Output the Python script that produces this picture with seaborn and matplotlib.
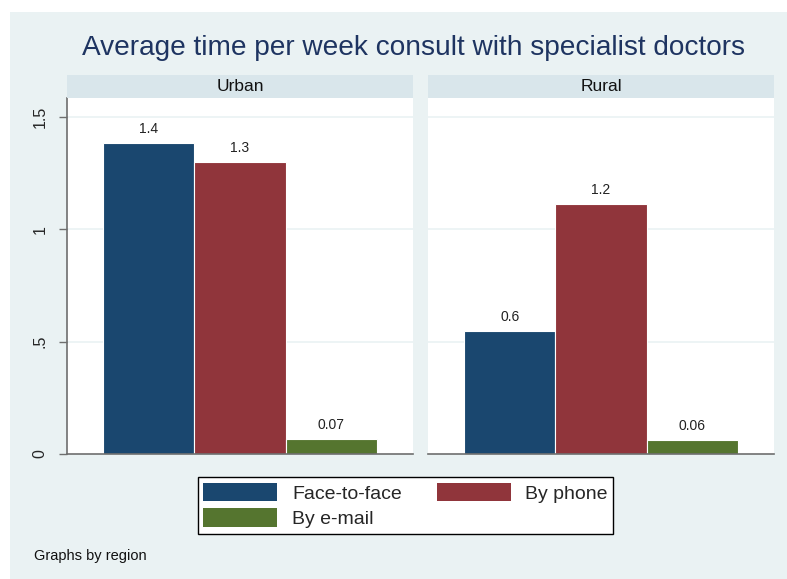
import matplotlib
matplotlib.use("Agg")
import matplotlib.pyplot as plt
from matplotlib.patches import Rectangle, Patch
import seaborn as sns
import pandas as pd

regions = ["Urban", "Rural"]
modes = ["Face-to-face", "By phone", "By e-mail"]
urban_values = [1.384, 1.300, 0.067]
rural_values = [0.547, 1.113, 0.062]
urban_labels = ["1.4", "1.3", "0.07"]
rural_labels = ["0.6", "1.2", "0.06"]
yticks = [0, 0.5, 1, 1.5]
ytick_labels = ["0", ".5", "1", "1.5"]
colors = ["#1A476F", "#90353B", "#55752F"]

sns.set_theme(style="white")
plt.rcParams["font.family"] = ["Liberation Sans", "DejaVu Sans"]

W, H = 787, 579
fig = plt.figure(figsize=(W / 100, H / 100), dpi=100, facecolor="white")
bg = "#EAF2F3"
fig.patches.append(Rectangle((10 / W, 0), 1, 1 - 12 / H, transform=fig.transFigure,
                             facecolor=bg, edgecolor="none", zorder=-10))

def fx(px): return px / W
def fy(py): return 1 - py / H

fig.text(fx(413), fy(48), "Average time per week consult with specialist doctors",
         ha="center", va="center", fontsize=20.2, color="#1E3461")

panels = [(67, urban_values, urban_labels, "Urban"), (428, rural_values, rural_labels, "Rural")]
ymax = (454 - 98) / 224.7
for i, (x0, vals, labs, name) in enumerate(panels):
    ax = fig.add_axes([fx(x0), fy(454), 346 / W, 356 / H])
    df = pd.DataFrame({"mode": modes, "value": vals})
    sns.barplot(data=df, x="mode", y="value", hue="mode", palette=colors,
                order=modes, hue_order=modes, width=1.0, dodge=False, saturation=1,
                edgecolor="white", linewidth=0.8, legend=False, ax=ax)
    for p, lab in zip(ax.patches, labs):
        ax.text(p.get_x() + p.get_width() / 2, p.get_height() + 0.03, lab,
                ha="center", va="bottom", fontsize=10, color="#222222")
    ax.set_xlim(-0.5 - 36 / 91.5, 2.5 + 36 / 91.5)
    ax.set_ylim(0, ymax)
    ax.set_facecolor("white")
    ax.set_xlabel("")
    ax.set_ylabel("")
    ax.set_xticks([])
    for y in [0.5, 1.0, 1.5]:
        ax.axhline(y, color=bg, lw=1.2, zorder=0)
    for s in ["top", "right"]:
        ax.spines[s].set_visible(False)
    ax.spines["bottom"].set_color("#6E6E6E")
    ax.spines["bottom"].set_linewidth(1.2)
    if i == 0:
        ax.spines["left"].set_color("#6E6E6E")
        ax.spines["left"].set_linewidth(1.2)
        ax.set_yticks(yticks)
        ax.set_yticklabels(ytick_labels, rotation=90, va="center", fontsize=11.5)
        ax.tick_params(axis="y", length=6, color="#6E6E6E", width=1, pad=8, left=True)
    else:
        ax.spines["left"].set_visible(False)
        ax.set_yticks([])
    sax = fig.add_axes([fx(x0), fy(98), 346 / W, 23 / H])
    sax.set_facecolor("#D9E6EB")
    sax.set_xticks([]); sax.set_yticks([])
    for s in sax.spines.values():
        s.set_visible(False)
    sax.text(0.5, 0.5, name, ha="center", va="center", fontsize=12.5, color="#111111",
             transform=sax.transAxes)

handles = [Patch(facecolor=c, edgecolor="none", label=m) for c, m in zip(colors, modes)]
order = [0, 2, 1]
leg = fig.legend(handles=[handles[k] for k in order], loc="center",
                 bbox_to_anchor=(fx(405.5), fy(505.5)),
                 ncol=2, fontsize=14, frameon=True, fancybox=False, framealpha=1,
                 facecolor="white",
                 handlelength=3.8, handleheight=1.1, handletextpad=0.75,
                 columnspacing=1.8, borderpad=0.3, labelspacing=0.3)
leg.get_frame().set_edgecolor("black")
leg.get_frame().set_linewidth(1.0)

fig.text(fx(34), fy(556), "Graphs by region", ha="left", va="center", fontsize=10.5,
         color="#111111")

fig.savefig("out.png", dpi=100, facecolor="white")
